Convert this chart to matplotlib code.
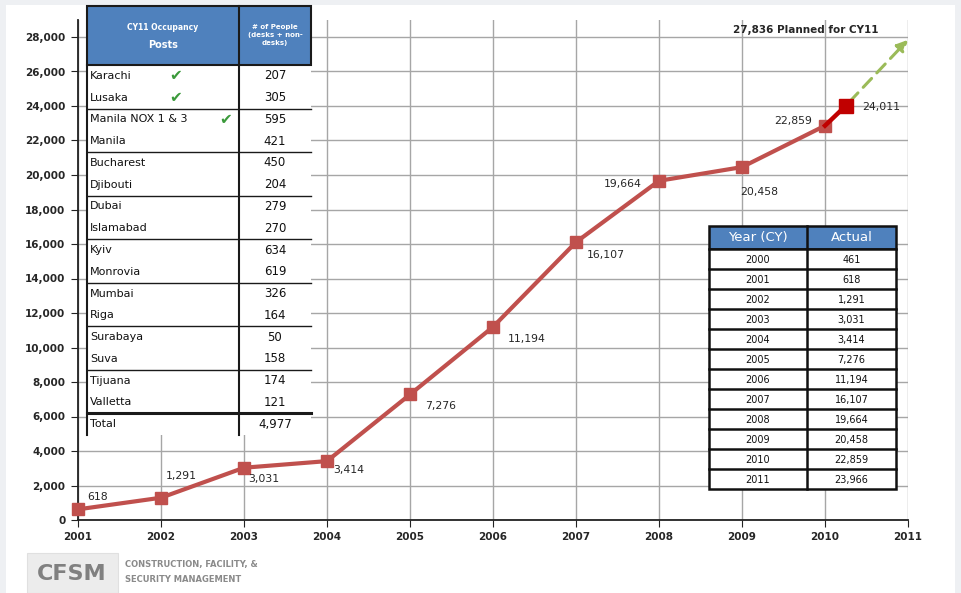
import matplotlib
matplotlib.use("Agg")
import matplotlib.pyplot as plt
from matplotlib.patches import Rectangle

# ---- data ----
years = [2001, 2002, 2003, 2004, 2005, 2006, 2007, 2008, 2009, 2010]
people = [618, 1291, 3031, 3414, 7276, 11194, 16107, 19664, 20458, 22859]
latest_x = 2010.25
latest_val = 24011
planned_x = 2011
planned_val = 27836
planned_label = "27,836 Planned for CY11"

# label offsets in pixels (dx, dy) for each point label
label_offsets = [(20, 12), (20, 22), (20, -11), (22, -9), (31, -12), (34, -12),
                 (30, -13), (-36, -3), (17, -25), (-32, 5)]

posts = ["Karachi", "Lusaka", "Manila NOX 1 & 3", "Manila", "Bucharest", "Djibouti",
         "Dubai", "Islamabad", "Kyiv", "Monrovia", "Mumbai", "Riga", "Surabaya",
         "Suva", "Tijuana", "Valletta"]
post_people = [207, 305, 595, 421, 450, 204, 279, 270, 634, 619, 326, 164, 50, 158, 174, 121]
post_checked = [True, True, True] + [False] * 13
post_total = "4,977"

table_years = list(range(2000, 2012))
table_actual = [461, 618, 1291, 3031, 3414, 7276, 11194, 16107, 19664, 20458, 22859, 23966]

W, H = 961, 593
fig = plt.figure(figsize=(W / 100, H / 100), dpi=100)
fig.patch.set_facecolor("#eef0f3")

# background card
bg = fig.add_axes([0, 0, 1, 1], zorder=0)
bg.set_xlim(0, W)
bg.set_ylim(H, 0)
bg.axis("off")
bg.add_patch(Rectangle((6, 5), 949, 590, facecolor="white", edgecolor="none"))

# ---- main chart ----
ax = fig.add_axes([78 / W, 1 - 520 / H, 830 / W, (520 - 19.75) / H], zorder=1)
ax.set_facecolor("none")
ax.set_xlim(2001, 2011)
ax.set_ylim(0, 29000)
ax.set_xticks(range(2001, 2012))
ax.set_yticks(range(0, 28001, 2000))
ax.set_yticklabels([f"{v:,}" for v in range(0, 28001, 2000)])
ax.grid(True, color="#a6a6a6", lw=1)
ax.set_axisbelow(True)
for s in ["top", "right"]:
    ax.spines[s].set_visible(False)
for s in ["left", "bottom"]:
    ax.spines[s].set_color("#222222")
    ax.spines[s].set_linewidth(1.3)
ax.tick_params(axis="both", length=5, color="#222222", labelsize=7.5,
               labelcolor="#262626", pad=4)
for lab in ax.get_xticklabels() + ax.get_yticklabels():
    lab.set_fontweight("bold")

ax.plot(years, people, color="#c0504d", lw=3, marker="s", ms=8.5, zorder=5,
        clip_on=False)
ax.plot([years[-1], latest_x], [people[-1], latest_val], color="#c00000", lw=3.2,
        zorder=6)
ax.plot([latest_x], [latest_val], color="#c00000", marker="s", ms=9.5, zorder=7)
ax.annotate("", xy=(planned_x, planned_val), xytext=(latest_x, latest_val),
            arrowprops=dict(arrowstyle="-|>", linestyle=(0, (4, 2.5)), color="#9bbb59",
                            lw=2.2, mutation_scale=16, shrinkA=4, shrinkB=0),
            annotation_clip=False, zorder=6)
ax.annotate(planned_label, xy=(planned_x, planned_val), xytext=(-102, 10),
            textcoords="offset pixels", ha="center", va="center", fontsize=7.5,
            fontweight="bold", color="#262626", annotation_clip=False)

for x, v, (dx, dy) in zip(years, people, label_offsets):
    ax.annotate(f"{v:,}", xy=(x, v), xytext=(dx, dy), textcoords="offset pixels",
                ha="center", va="center", fontsize=7.8, color="#262626", zorder=8)
ax.annotate(f"{latest_val:,}", xy=(latest_x, latest_val), xytext=(35, -1),
            textcoords="offset pixels", ha="center", va="center", fontsize=7.8,
            color="#262626", zorder=8)

# ---- overlay (tables, logo) in pixel coords ----
ov = fig.add_axes([0, 0, 1, 1], zorder=2)
ov.set_xlim(0, W)
ov.set_ylim(H, 0)
ov.axis("off")

blue = "#4f81bd"
# left table
lx0, lxm, lx1 = 87, 239, 311
top, hb, bottom = 6, 65, 435
ov.add_patch(Rectangle((lx0, hb), lx1 - lx0, bottom - hb, facecolor="white",
                       edgecolor="none"))
ov.add_patch(Rectangle((lx0, top), lx1 - lx0, hb - top, facecolor=blue,
                       edgecolor="#1a1a1a", lw=1.5))
ov.plot([lxm, lxm], [top, bottom], color="#1a1a1a", lw=1.5)
ov.plot([lx0, lx0], [hb, bottom], color="#1a1a1a", lw=1.5)
ov.text((lx0 + lxm) / 2, 28, "CY11 Occupancy", color="white", fontsize=5.5,
        fontweight="bold", ha="center", va="center")
ov.text((lx0 + lxm) / 2, 45, "Posts", color="white", fontsize=7,
        fontweight="bold", ha="center", va="center")
ov.text((lxm + lx1) / 2, 35, "# of People\n(desks + non-\ndesks)", color="white",
        fontsize=5, fontweight="bold", ha="center", va="center", linespacing=1.5)

n_rows = len(posts) + 1
rh = (bottom - hb) / n_rows
for i, (name, val, chk) in enumerate(zip(posts, post_people, post_checked)):
    yc = hb + rh * (i + 0.5)
    ov.text(lx0 + 3, yc, name, fontsize=8, ha="left", va="center", color="#111111")
    ov.text((lxm + lx1) / 2, yc, str(val), fontsize=8.5, ha="center", va="center",
            color="#111111")
    if chk:
        cx = 226 if len(name) > 10 else 176
        ov.text(cx, yc, "\u2714", fontsize=11, color="#3b9a3b", ha="center",
                va="center")
    if i % 2 == 1 and i < len(posts) - 1:
        ov.plot([lx0, lx1], [hb + rh * (i + 1)] * 2, color="#1a1a1a", lw=1)
ov.plot([lx0, lx1], [hb + rh * len(posts)] * 2, color="#1a1a1a", lw=2.2)
yc = hb + rh * (len(posts) + 0.5)
ov.text(lx0 + 3, yc, "Total", fontsize=8, ha="left", va="center", color="#111111")
ov.text((lxm + lx1) / 2, yc, post_total, fontsize=8.5, ha="center", va="center",
        color="#111111")

# right table
rx0, rxm, rx1 = 709, 807, 896
rt, rhb, rb = 226, 249, 489
ov.add_patch(Rectangle((rx0, rt), rx1 - rx0, rhb - rt, facecolor=blue,
                       edgecolor="#111111", lw=1.8))
ov.add_patch(Rectangle((rx0, rhb), rx1 - rx0, rb - rhb, facecolor="white",
                       edgecolor="#111111", lw=1.8))
ov.plot([rxm, rxm], [rt, rb], color="#111111", lw=1.8)
ov.text((rx0 + rxm) / 2, (rt + rhb) / 2, "Year (CY)", color="white", fontsize=9.5,
        ha="center", va="center")
ov.text((rxm + rx1) / 2, (rt + rhb) / 2, "Actual", color="white", fontsize=9.5,
        ha="center", va="center")
rrh = (rb - rhb) / len(table_years)
for i, (yr, val) in enumerate(zip(table_years, table_actual)):
    yc = rhb + rrh * (i + 0.55)
    ov.text((rx0 + rxm) / 2, yc, str(yr), fontsize=7, ha="center", va="center",
            color="#111111")
    ov.text((rxm + rx1) / 2, yc, f"{val:,}", fontsize=7, ha="center", va="center",
            color="#111111")
    if i > 0:
        ov.plot([rx0, rx1], [rhb + rrh * i] * 2, color="#111111", lw=1.8)

# logo
ov.add_patch(Rectangle((27, 553), 91, 40, facecolor="#ececec", edgecolor="#e0e0e0",
                       lw=0.8))
ov.text(72, 574, "CFSM", fontsize=16, fontweight="bold", color="#808080",
        ha="center", va="center")
ov.text(125, 564, "CONSTRUCTION, FACILITY, &", fontsize=6, fontweight="bold",
        color="#8a8a8a", ha="left", va="center")
ov.text(125, 580, "SECURITY MANAGEMENT", fontsize=6, fontweight="bold",
        color="#8a8a8a", ha="left", va="center")

fig.savefig("out.png", dpi=100, facecolor=fig.get_facecolor())
